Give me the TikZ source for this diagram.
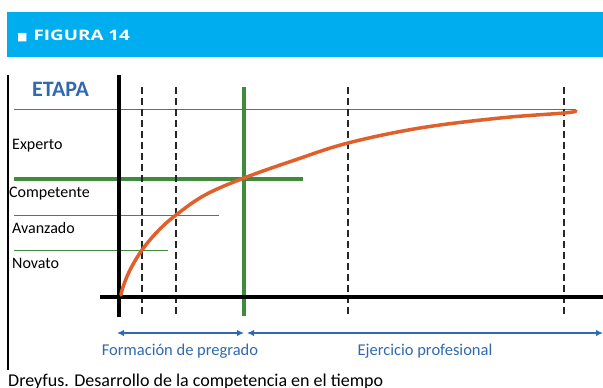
\documentclass[tikz,border=0pt]{standalone}
\usepackage{fontspec}
\setmainfont{Carlito}
\newfontfamily\symfont{DejaVu Sans}
\newfontfamily\headfont{Open Sans}
\usetikzlibrary{arrows.meta}

\definecolor{headBlue}{HTML}{00AEEF}
\definecolor{textBlue}{HTML}{2F6AB0}
\definecolor{lineGreen}{HTML}{3F8A3C}
\definecolor{curveRed}{HTML}{E0602C}

\begin{document}
\begin{tikzpicture}[x=1pt, y=-1pt,
            stageLabel/.style={anchor=base west, inner sep=0pt, font=\fontsize{16}{16}\selectfont},
            timeLabel/.style={anchor=base, inner sep=0pt, text=textBlue, font=\fontsize{16.5}{16.5}\selectfont},
            thinGreen/.style={draw=lineGreen, line width=1pt},
            thickGreen/.style={draw=lineGreen, line width=3.5pt},
            dashLine/.style={draw=black!85, line width=2.3pt, dash pattern=on 7pt off 4pt},
            axisLine/.style={draw=black, line width=4.7pt},
            spanArrow/.style={<->, >={Latex[length=7pt, width=6.5pt]}, draw=textBlue, line width=2.5pt}]

            \useasboundingbox (0,0) rectangle (603,388);

            % header band
            \fill[headBlue] (7,12) rectangle (603,57);
            \node [anchor=base west, inner sep=0pt, text=white](title) at (17,41)
                {{\symfont\fontsize{11}{11}\selectfont■}\hspace{6pt}\scalebox{1.3}[1]{\headfont\bfseries\fontsize{14.5}{14.5}\selectfont FIGURA 14}};

            % frame line on the left
            \coordinate (frameTop) at (8,75);
            \coordinate (frameBot) at (8,370);
            \draw[line width=1.5pt] (frameTop) -- (frameBot);

            \node [anchor=base west, inner sep=0pt, text=textBlue, font=\fontsize{22}{22}\selectfont\bfseries](etapa) at (32,96) {ETAPA};

            % stage levels
            \coordinate (lvl1a) at (14,109);  \coordinate (lvl1b) at (576,109);
            \coordinate (lvl2a) at (14,179);  \coordinate (lvl2b) at (303,179);
            \coordinate (lvl3a) at (14,215);  \coordinate (lvl3b) at (219,215);
            \coordinate (lvl4a) at (14,250);  \coordinate (lvl4b) at (168,250);
            \draw[thinGreen] (lvl1a) -- (lvl1b);
            \draw[thickGreen] (lvl2a) -- (lvl2b);
            \draw[thinGreen] (lvl3a) -- (lvl3b);
            \draw[thinGreen] (lvl4a) -- (lvl4b);

            \node [stageLabel](experto) at (12,149) {Experto};
            \node [stageLabel](competente) at (9,197) {Competente};
            \node [stageLabel](avanzado) at (12,233) {Avanzado};
            \node [stageLabel](novato) at (12,268) {Novato};

            % time marks
            \foreach \xm/\name in {142/markA, 176/markB, 348/markC, 564/markD}
            {
                \coordinate (\name Top) at (\xm,87);
                \coordinate (\name Bot) at (\xm,316);
                \draw[dashLine] (\name Top) -- (\name Bot);
            }
            \coordinate (gradTop) at (244,87);
            \coordinate (gradBot) at (244,316);
            \draw[draw=lineGreen, line width=3.5pt] (gradTop) -- (gradBot);

            % axes
            \coordinate (yTop) at (119,75);
            \coordinate (yBot) at (119,317);
            \coordinate (xLeft) at (100,297);
            \coordinate (xRight) at (603,297);
            \draw[axisLine] (yTop) -- (yBot);
            \draw[axisLine] (xLeft) -- (xRight);

            % competence curve
            \draw[draw=curveRed, line width=3.5pt, line cap=round] plot[smooth, tension=0.6] coordinates
                {(121,295) (123,287) (130,270) (142,250) (158,231) (176,215) (205,195) (244,178)
                 (295,160) (348,143) (420,128) (500,118) (564,113) (576,111)};

            % periods
            \coordinate (preA) at (117,333);
            \coordinate (preB) at (244,333);
            \coordinate (proA) at (247,333);
            \coordinate (proB) at (603,333);
            \draw[spanArrow] (preA) -- (preB);
            \draw[spanArrow] (proA) -- (proB);
            \node [timeLabel](pregrado) at (180,355) {Formación de pregrado};
            \node [timeLabel](profesional) at (425,355) {Ejercicio profesional};

            \node [anchor=base west, inner sep=0pt, font=\fontsize{18}{18}\selectfont](caption) at (8,386)
                {Dreyfus. Desarrollo de la competencia en el tiempo};
\end{tikzpicture}
\end{document}
